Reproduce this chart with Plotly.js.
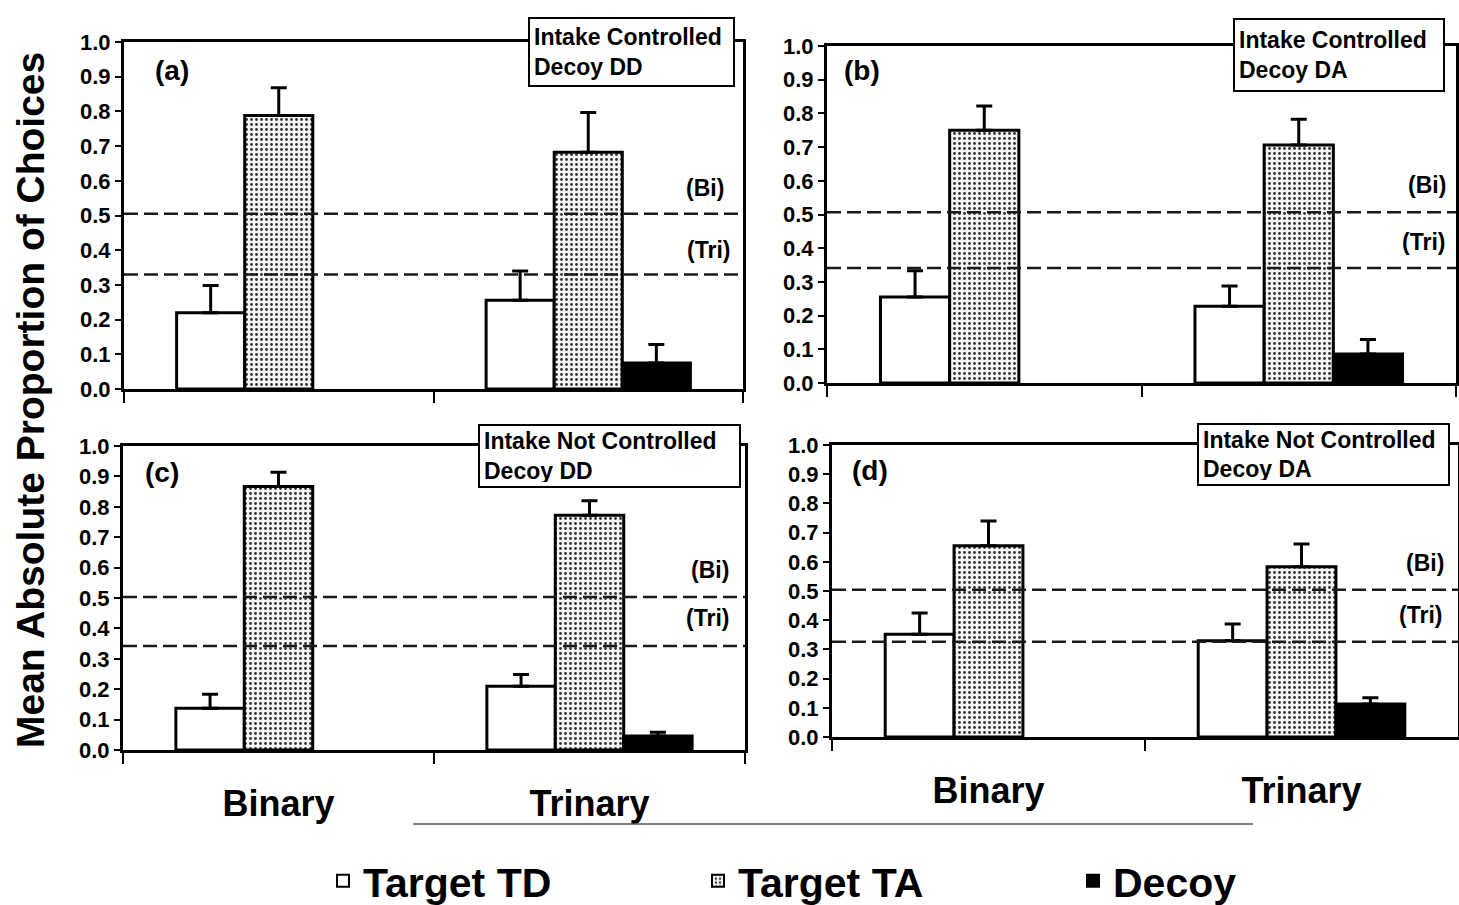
<!DOCTYPE html>
<html>
<head>
<meta charset="utf-8">
<script src="https://cdn.plot.ly/plotly-3.0.1.min.js"></script>
<style>
  html, body { margin: 0; padding: 0; background: #fff; }
  #chart { width: 1459px; height: 905px; }
</style>
</head>
<body>
<div id="chart"></div>
<script>
// Choice conditions on the x axis
const categories = ['Binary', 'Trinary'];
const seriesNames = ['Target TD', 'Target TA', 'Decoy'];

// (a) Intake controlled, decoy DD
const tdA = [0.22, 0.256];
const tdAErr = [0.078, 0.084];
const taA = [0.788, 0.682];
const taAErr = [0.08, 0.115];
const decoyA = [null, 0.075];
const decoyAErr = [null, 0.053];

// (b) Intake controlled, decoy DA
const tdB = [0.255, 0.228];
const tdBErr = [0.078, 0.06];
const taB = [0.75, 0.706];
const taBErr = [0.072, 0.077];
const decoyB = [null, 0.086];
const decoyBErr = [null, 0.043];

// (c) Intake not controlled, decoy DD
const tdC = [0.137, 0.21];
const tdCErr = [0.046, 0.038];
const taC = [0.867, 0.772];
const taCErr = [0.047, 0.048];
const decoyC = [null, 0.046];
const decoyCErr = [null, 0.012];

// (d) Intake not controlled, decoy DA
const tdD = [0.352, 0.33];
const tdDErr = [0.073, 0.057];
const taD = [0.655, 0.583];
const taDErr = [0.085, 0.078];
const decoyD = [null, 0.113];
const decoyDErr = [null, 0.021];

// Chance levels: binary (Bi) and trinary (Tri)
const chanceBi = [0.505, 0.507, 0.503, 0.504];
const chanceTri = [0.33, 0.341, 0.342, 0.326];

const panelTags = ['(a)', '(b)', '(c)', '(d)'];
const panelBoxes = [
  'Intake Controlled<br>Decoy DD',
  'Intake Controlled<br>Decoy DA',
  'Intake Not Controlled<br>Decoy DD',
  'Intake Not Controlled<br>Decoy DA'
];

const W = 1459, H = 905;
const px = v => v / W;
const py = v => 1 - v / H;
const FONT = 'Liberation Sans, Arial, Helvetica, sans-serif';

const panels = [
  {td: tdA, tdE: tdAErr, ta: taA, taE: taAErr, dc: decoyA, dcE: decoyAErr,
   dom: {x: [124, 743], y: [42, 389]}, bottom: false,
   tag: [172, 70], bi: [705, 188], tri: [708, 250],
   box: {l: 528, t: 17, w: 195, h: 58}},
  {td: tdB, tdE: tdBErr, ta: taB, taE: taBErr, dc: decoyB, dcE: decoyBErr,
   dom: {x: [827, 1456], y: [46, 383]}, bottom: false,
   tag: [862, 70], bi: [1427, 185], tri: [1423, 242],
   box: {l: 1233, t: 18, w: 200, h: 62}},
  {td: tdC, tdE: tdCErr, ta: taC, taE: taCErr, dc: decoyC, dcE: decoyCErr,
   dom: {x: [123, 745], y: [446, 750]}, bottom: true,
   tag: [162, 472], bi: [710, 570], tri: [707, 618],
   box: {l: 478, t: 424, w: 251, h: 52}},
  {td: tdD, tdE: tdDErr, ta: taD, taE: taDErr, dc: decoyD, dcE: decoyDErr,
   dom: {x: [832, 1458], y: [445, 737]}, bottom: true,
   tag: [870, 470], bi: [1425, 563], tri: [1420, 615],
   box: {l: 1197, t: 423, w: 241, h: 51}}
];

const barLine = {color: '#000', width: 3};
const errStyle = arr => ({
  type: 'data', array: arr, arrayminus: arr.map(() => 0), symmetric: false,
  visible: true, color: '#000', thickness: 3, width: 8
});

const traces = [];
const layout = {
  width: W, height: H,
  margin: {l: 0, r: 0, t: 0, b: 0, autoexpand: false},
  paper_bgcolor: '#fff', plot_bgcolor: 'rgba(0,0,0,0)',
  font: {family: FONT, color: '#000', weight: 'bold'},
  barmode: 'group', bargap: 0.34, bargroupgap: 0,
  showlegend: true,
  legend: {
    orientation: 'h', x: px(323), xanchor: 'left', y: py(881), yanchor: 'middle',
    font: {size: 41, family: FONT, weight: 'bold'},
    entrywidth: 330, entrywidthmode: 'pixels', traceorder: 'normal',
    itemsizing: 'constant', bgcolor: 'rgba(0,0,0,0)'
  },
  shapes: [],
  annotations: []
};

const centred = (x, y, text, size) => ({
  xref: 'paper', yref: 'paper', x: px(x), y: py(y),
  xanchor: 'center', yanchor: 'middle',
  text: text, showarrow: false,
  font: {size: size, family: FONT, weight: 'bold'}
});

panels.forEach((p, i) => {
  const n = i === 0 ? '' : String(i + 1);
  const xa = 'x' + n, ya = 'y' + n;

  traces.push({
    type: 'bar', name: seriesNames[0], x: categories, y: p.td,
    xaxis: xa, yaxis: ya, legendgroup: 'td', showlegend: i === 0,
    marker: {color: '#fff', line: barLine},
    error_y: errStyle(p.tdE), hoverinfo: 'y'
  });
  traces.push({
    type: 'bar', name: seriesNames[1], x: categories, y: p.ta,
    xaxis: xa, yaxis: ya, legendgroup: 'ta', showlegend: i === 0,
    marker: {color: '#f4f4f4', line: barLine,
             pattern: {shape: '.', fgcolor: '#333', bgcolor: '#f4f4f4', size: 5, solidity: 0.25}},
    error_y: errStyle(p.taE), hoverinfo: 'y'
  });
  traces.push({
    type: 'bar', name: seriesNames[2], x: categories, y: p.dc,
    xaxis: xa, yaxis: ya, legendgroup: 'dc', showlegend: i === 0,
    marker: {color: '#000', line: barLine},
    error_y: errStyle(p.dcE.map(v => v === null ? 0 : v)), hoverinfo: 'y'
  });

  layout['xaxis' + n] = {
    domain: [px(p.dom.x[0]), px(p.dom.x[1])], anchor: ya,
    type: 'category', categoryorder: 'array', categoryarray: categories,
    range: [-0.5, 1.5], automargin: false,
    showline: true, mirror: true, linecolor: '#000', linewidth: 3,
    ticks: 'outside', tickson: 'boundaries', ticklen: 11, tickwidth: 2, tickcolor: '#000',
    showticklabels: p.bottom, ticklabelstandoff: 20,
    tickfont: {size: 36, family: FONT, weight: 'bold'},
    showgrid: false, zeroline: false, fixedrange: true
  };
  layout['yaxis' + n] = {
    domain: [py(p.dom.y[1]), py(p.dom.y[0])], anchor: xa,
    range: [0, 1], tick0: 0, dtick: 0.1, tickformat: '.1f', automargin: false,
    showline: true, mirror: true, linecolor: '#000', linewidth: 3,
    ticks: 'outside', ticklen: 6, tickwidth: 2, tickcolor: '#000',
    tickfont: {size: 22, family: FONT, weight: 'bold'},
    showgrid: false, zeroline: false, fixedrange: true
  };

  // Chance-level reference lines
  [chanceBi[i], chanceTri[i]].forEach(v => {
    layout.shapes.push({
      type: 'line', xref: xa + ' domain', yref: ya, x0: 0, x1: 1, y0: v, y1: v,
      line: {color: '#1a1a1a', width: 2.5, dash: '14px,6px'}, layer: 'above'
    });
  });

  layout.annotations.push(centred(p.tag[0], p.tag[1], panelTags[i], 28));
  layout.annotations.push(centred(p.bi[0], p.bi[1], '(Bi)', 23));
  layout.annotations.push(centred(p.tri[0], p.tri[1], '(Tri)', 23));
  layout.annotations.push({
    xref: 'paper', yref: 'paper', x: px(p.box.l), y: py(p.box.t),
    xanchor: 'left', yanchor: 'top', align: 'left', valign: 'middle',
    width: p.box.w, height: p.box.h,
    text: panelBoxes[i], showarrow: false,
    bgcolor: '#fff', bordercolor: '#000', borderwidth: 2, borderpad: 4,
    font: {size: 23, family: FONT, weight: 'bold'}
  });
});

// Shared y-axis title
const yTitle = centred(30, 400, 'Mean Absolute Proportion of Choices', 39);
yTitle.textangle = -90;
layout.annotations.push(yTitle);

// Rule under the category labels
layout.shapes.push({
  type: 'line', xref: 'paper', yref: 'paper',
  x0: px(413), x1: px(1253), y0: py(824), y1: py(824),
  line: {color: '#555', width: 1.5}
});

Plotly.newPlot('chart', traces, layout, {displayModeBar: false, staticPlot: true});
</script>
</body>
</html>
